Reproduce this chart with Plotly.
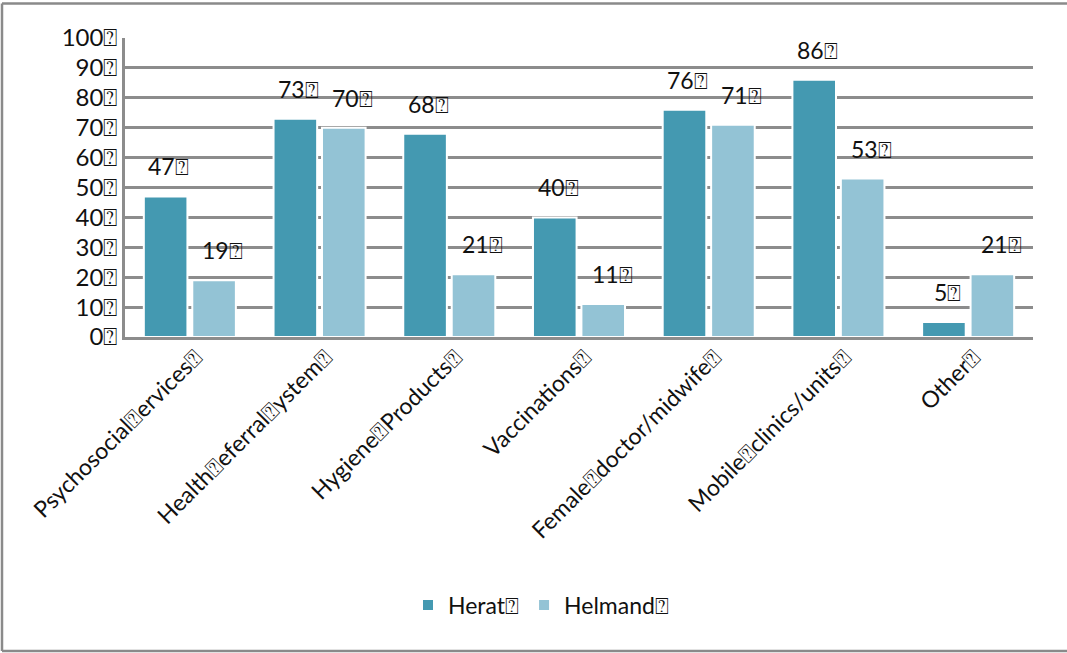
import plotly.graph_objects as go

T = "\u2370"
categories = ["Psychosocial Services", "Health Referral System", "Hygiene Products",
              "Vaccinations", "Female doctor/midwife", "Mobile clinics/units", "Other"]
cat_labels = ["Psychosocial" + T + "ervices" + T, "Health" + T + "eferral" + T + "ystem" + T,
              "Hygiene" + T + "Products" + T, "Vaccinations" + T, "Female" + T + "doctor/midwife" + T,
              "Mobile" + T + "clinics/units" + T, "Other" + T]
herat = [47, 73, 68, 40, 76, 86, 5]
helmand = [19, 70, 21, 11, 71, 53, 21]
series_names = ["Herat" + T, "Helmand" + T]
yticks = list(range(0, 101, 10))
ytext = [f"{v}{T}" for v in yticks]

FONT = "Lato, 'Open Sans', 'DejaVu Sans', sans-serif"
FS = 23
C1 = "#4499b1"
C2 = "#93c3d5"

W, H = 1067, 653
L, R, TOP, B = 125, 34, 38, 316
pw, ph = W - L - R, H - TOP - B


def px(x):
    return (x - L) / pw


def py(y):
    return (TOP + ph - y) / ph


fig = go.Figure()
for name, vals, col in [(series_names[0], herat, C1), (series_names[1], helmand, C2)]:
    fig.add_trace(go.Bar(x=cat_labels, y=vals, name=name,
                         marker=dict(color=col, line=dict(color="white", width=2))))

anns = []
for vals, shift in [(herat, -27), (helmand, 27)]:
    for c, v in zip(cat_labels, vals):
        anns.append(dict(x=c, y=v, xref="x", yref="y", text=f"{v}{T}", showarrow=False,
                         xshift=shift + 6, yshift=30, font=dict(size=FS, color="#111", family=FONT)))

frame = dict(color="#8a8a8a", width=2.5)
shapes = [
    dict(type="line", xref="paper", yref="paper", x0=px(2), x1=px(2), y0=py(3.5), y1=py(651), line=frame, layer="below"),
    dict(type="line", xref="paper", yref="paper", x0=px(2), x1=px(1067), y0=py(3.5), y1=py(3.5), line=frame, layer="below"),
    dict(type="line", xref="paper", yref="paper", x0=px(2), x1=px(1067), y0=py(651), y1=py(651), line=frame, layer="below"),
]

fig.update_layout(
    width=W, height=H,
    margin=dict(l=L, r=R, t=TOP, b=B, autoexpand=False),
    paper_bgcolor="white", plot_bgcolor="white",
    barmode="group", bargap=0.253, bargroupgap=0.1,
    font=dict(family=FONT, size=FS, color="#111"),
    annotations=anns,
    legend=dict(orientation="h", x=px(408), xanchor="left", y=py(605), yanchor="middle",
                font=dict(size=FS, family=FONT), itemwidth=30, traceorder="normal"),
    shapes=shapes,
)
fig.update_yaxes(range=[0, 100], tickvals=yticks, ticktext=ytext, showgrid=True,
                 gridcolor="#8c8c8c", gridwidth=2.5, showline=True, linecolor="#8c8c8c",
                 linewidth=2.5, ticks="", tickfont=dict(size=24, family=FONT), zeroline=False)
fig.update_xaxes(showline=True, linecolor="#8c8c8c", linewidth=2.5, tickangle=-45,
                 tickfont=dict(size=FS, family=FONT), ticks="",
                 ticklabelshift=6, ticklabelstandoff=-5)
fig.write_html("out.html", config={"displayModeBar": False},
               post_script="document.body.style.margin='0';document.body.style.overflow='hidden';"
                           "document.documentElement.style.overflow='hidden';")
